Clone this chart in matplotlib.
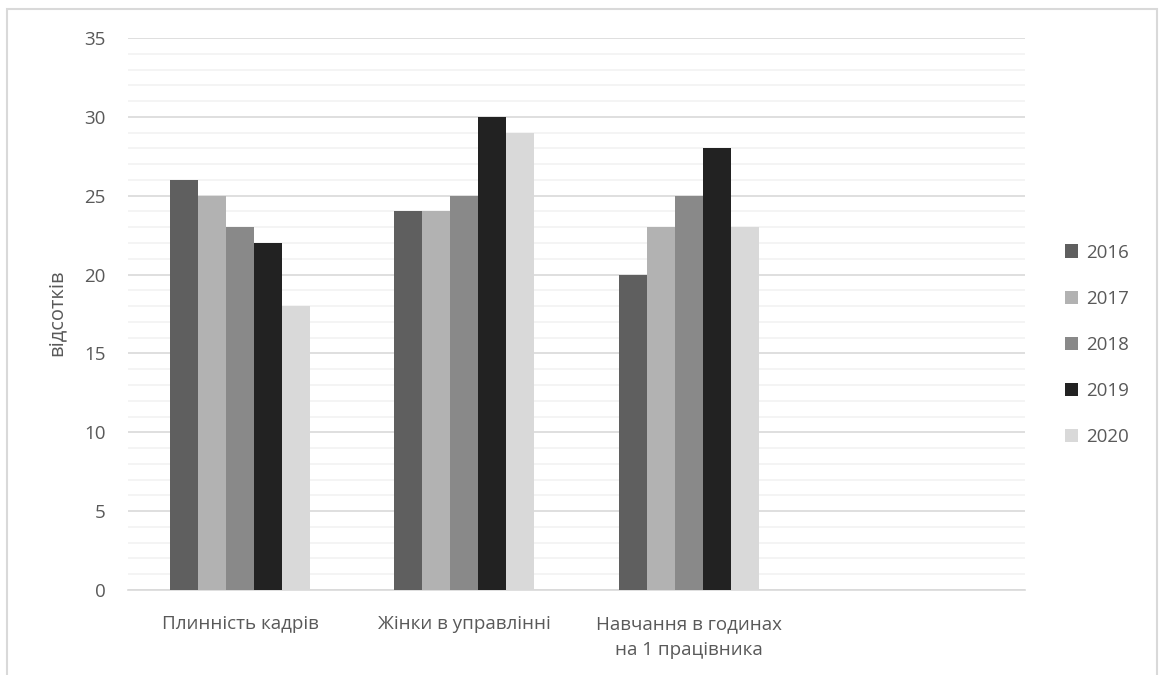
import matplotlib
matplotlib.use("Agg")
import matplotlib.pyplot as plt
import numpy as np
from matplotlib.patches import Rectangle

plt.rcParams['font.family'] = ['Open Sans', 'DejaVu Sans']

categories = ["Плинність кадрів", "Жінки в управлінні", "Навчання в годинах\nна 1 працівника", ""]
years = ["2016", "2017", "2018", "2019", "2020"]
values = {
    "2016": [26, 24, 20],
    "2017": [25, 24, 23],
    "2018": [23, 25, 25],
    "2019": [22, 30, 28],
    "2020": [18, 29, 23],
}
colors = ["#5f5f5f", "#b2b2b2", "#898989", "#222222", "#d9d9d9"]
text_color = "#595959"
fs = 13.5

fig = plt.figure(figsize=(11.64, 6.75), dpi=100)
ax = fig.add_axes([0.110, 0.1259, 0.7706, 0.8178])

# outer chart frame
fig.patches.append(Rectangle((7 / 1164, -0.05), 1150 / 1164, 1 - 9 / 675 + 0.05,
                             transform=fig.transFigure, fill=False,
                             edgecolor="#d9d9d9", linewidth=1.5))

n_cat = len(categories)
x = np.arange(n_cat)
bar_w = 0.125
for i, (yr, col) in enumerate(zip(years, colors)):
    vals = values[yr]
    pos = x[:len(vals)] + (i - 2) * bar_w
    ax.bar(pos, vals, width=bar_w, color=col, label=yr, zorder=3, linewidth=0)

ax.set_xlim(-0.5, n_cat - 0.5)
ax.set_ylim(0, 35)
ax.set_yticks(np.arange(0, 36, 5))
ax.set_yticks(np.arange(0, 36, 1), minor=True)
ax.grid(axis='y', which='major', color="#d9d9d9", linewidth=1.2, zorder=0)
ax.grid(axis='y', which='minor', color="#f2f2f2", linewidth=1.2, zorder=0)
ax.set_axisbelow(True)
for s in ["top", "right", "left"]:
    ax.spines[s].set_visible(False)
ax.spines["bottom"].set_color("#d9d9d9")
ax.spines["bottom"].set_linewidth(1.2)

ax.set_xticks(x)
ax.set_xticklabels(categories, fontsize=fs, color=text_color, linespacing=1.6)
ax.tick_params(axis='both', which='both', length=0)
ax.tick_params(axis='x', pad=18)
ax.tick_params(axis='y', pad=16, labelsize=fs, labelcolor=text_color)

ax.set_ylabel("відсотків", fontsize=14.5, color=text_color)
ax.yaxis.set_label_coords(-0.068, 0.502)

leg = ax.legend(loc='center left', frameon=False,
                fontsize=fs, labelcolor=text_color, handlelength=0.72,
                handleheight=0.72, handletextpad=0.4, labelspacing=1.5,
                borderaxespad=0)
leg.set_bbox_to_anchor((1.036, 0.444), transform=ax.transAxes)

fig.savefig("out.png", dpi=100, facecolor="white")
